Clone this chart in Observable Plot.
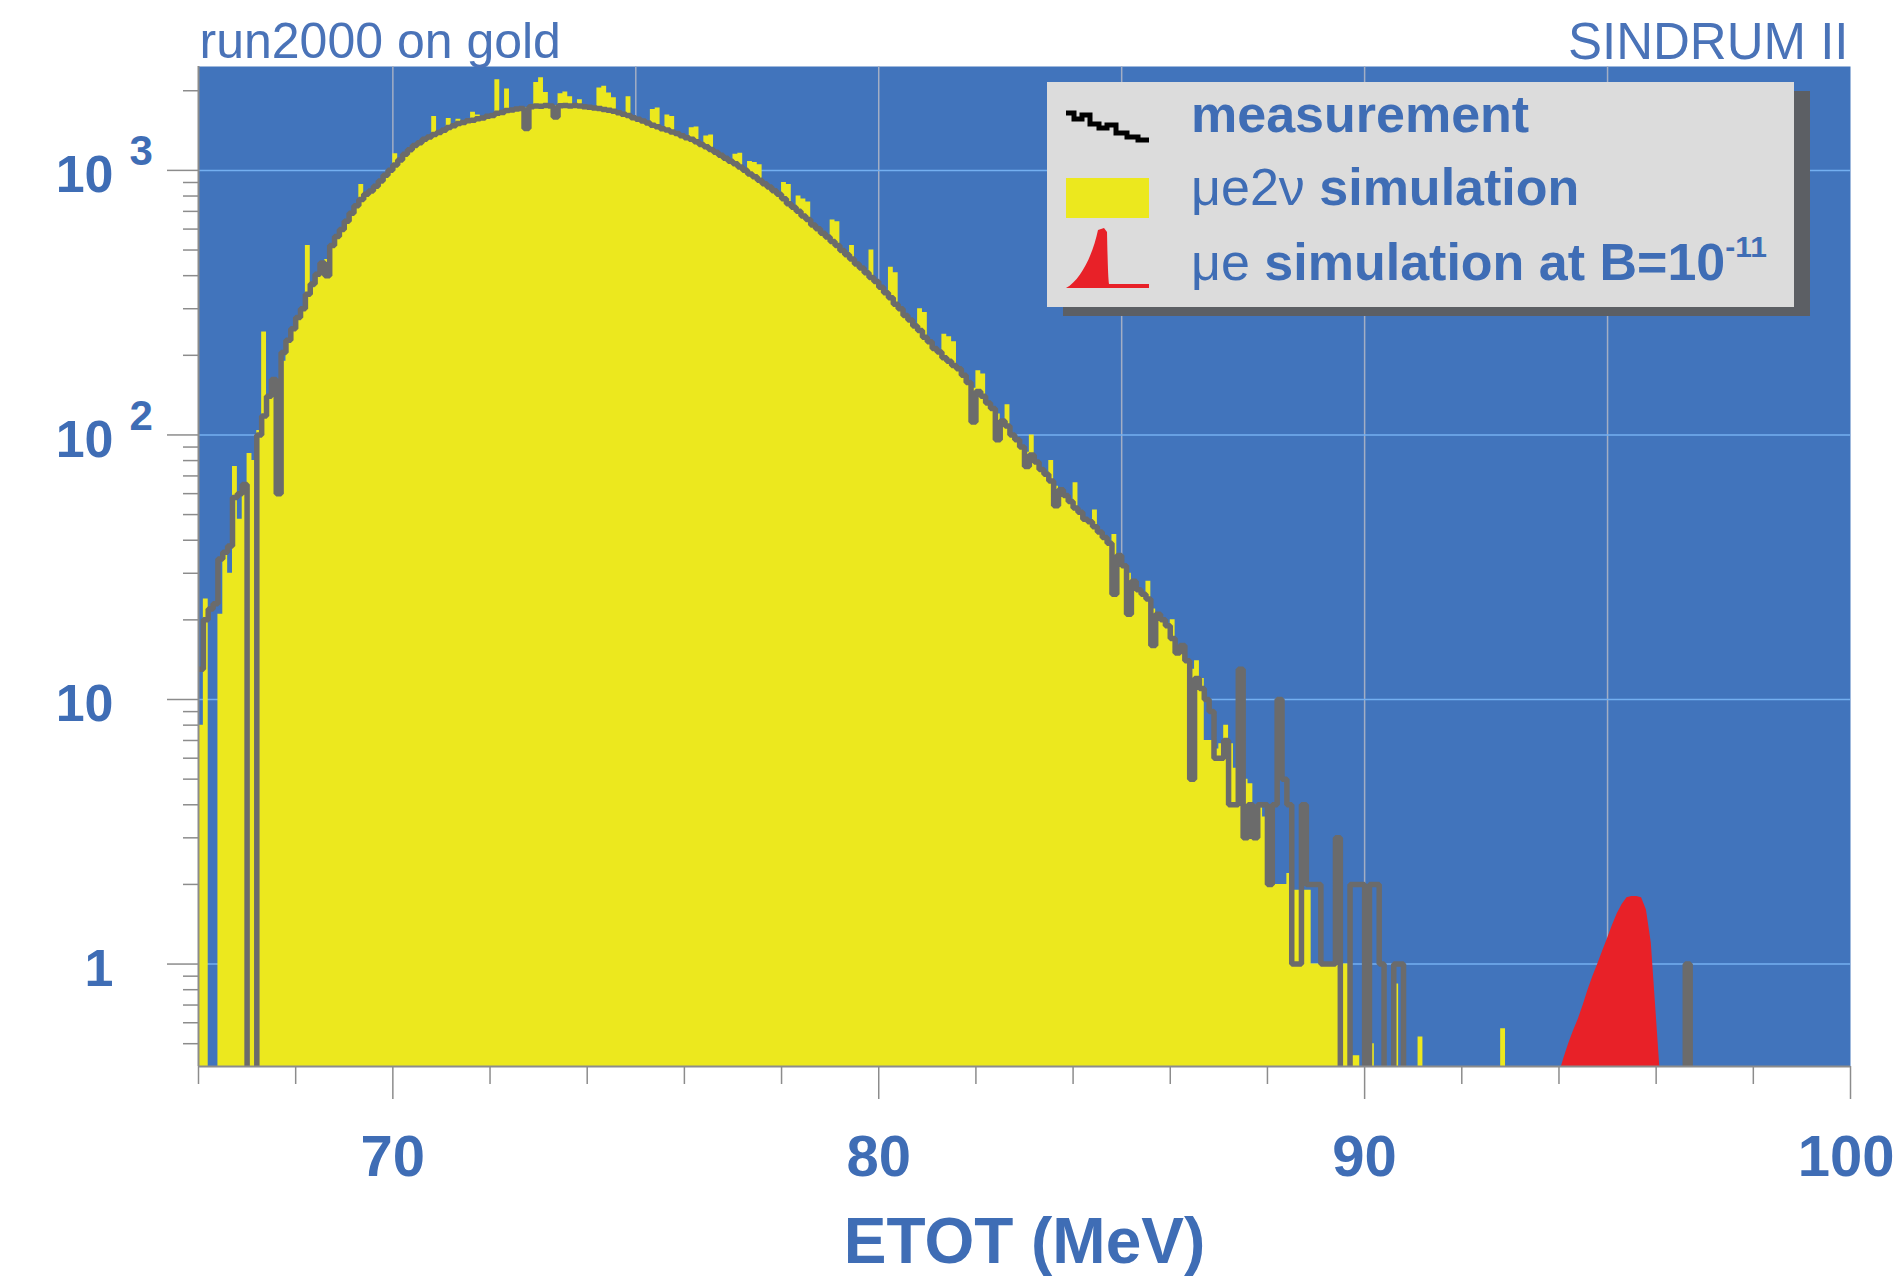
<!DOCTYPE html>
<html><head><meta charset="utf-8">
<script src="https://cdn.jsdelivr.net/npm/d3@7"></script>
<script src="https://cdn.jsdelivr.net/npm/@observablehq/plot@0.6"></script>
<style>
html,body{margin:0;padding:0;background:#fff;}
#wrap{position:relative;width:1896px;height:1279px;overflow:hidden;font-family:"Liberation Sans",Arial,Helvetica,sans-serif;}
#legend{position:absolute;left:1047px;top:82px;overflow:visible;}
</style></head>
<body><div id="wrap"></div>
<script>
// ---- data ----
const binStart = 66.0;      // MeV, first bin edge
const binWidth = 0.1;       // MeV
// measurement counts per 0.1 MeV bin, from 66.0 MeV
const meas = [
  13, 20, 22, 23, 34, 36, 38, 58, 60, 65,
  0, 0, 100, 118, 140, 162, 60, 205, 228, 252,
  278, 300, 340, 372, 405, 447, 400, 520, 562, 598,
  642, 688, 735, 776, 812, 836, 872, 912, 958, 1002,
  1048, 1095, 1152, 1196, 1242, 1272, 1312, 1338, 1368, 1392,
  1418, 1452, 1476, 1505, 1518, 1540, 1548, 1568, 1578, 1602,
  1612, 1645, 1655, 1684, 1690, 1708, 1712, 1440, 1740, 1752,
  1748, 1758, 1752, 1590, 1756, 1760, 1750, 1758, 1752, 1740,
  1732, 1722, 1712, 1700, 1688, 1672, 1652, 1630, 1612, 1582,
  1560, 1538, 1512, 1480, 1462, 1438, 1420, 1398, 1380, 1352,
  1330, 1310, 1282, 1252, 1228, 1200, 1172, 1140, 1112, 1082,
  1060, 1030, 1002, 970, 946, 918, 890, 866, 838, 812,
  782, 748, 726, 700, 672, 652, 622, 602, 578, 560,
  538, 520, 498, 480, 462, 443, 428, 410, 394, 380,
  362, 345, 330, 312, 300, 283, 272, 258, 248, 234,
  225, 212, 206, 196, 190, 183, 178, 168, 158, 112,
  146, 140, 132, 126, 96, 113, 108, 100, 96, 90,
  76, 84, 79, 74, 71, 67, 54, 62, 59, 56,
  53, 51, 48, 47, 45, 43, 41, 39, 25, 35,
  32, 21, 28, 26, 25, 24, 16, 21, 20, 19,
  17, 15, 16, 14, 5, 12, 11, 10, 9, 6,
  6, 7, 4, 4, 13, 3, 4, 3, 4, 4,
  2, 4, 10, 5, 4, 1, 1, 4, 2, 2,
  2, 1, 1, 1, 3, 0, 0, 2, 2, 2,
  0, 2, 2, 1, 0, 0, 1, 1, 0, 0,
  0, 0
];
// mu -> e 2 nu simulation per 0.1 MeV bin, from 66.0 MeV
const sim = [
  8, 24, 0, 0, 21, 36, 30, 76, 48, 62,
  85, 80, 104, 245, 140, 150, 100, 190, 225, 250,
  275, 298, 520, 360, 400, 445, 460, 515, 560, 600,
  640, 685, 735, 885, 810, 836, 870, 912, 955, 1000,
  1155, 1095, 1150, 1196, 1240, 1270, 1310, 1338, 1600, 1392,
  1418, 1570, 1476, 1560, 1518, 1540, 1660, 1620, 1578, 1600,
  1612, 2200, 1655, 2030, 1690, 1708, 1712, 1725, 1740, 2150,
  2240, 1970, 1760, 1760, 1950, 1980, 1900, 1760, 1850, 1745,
  1735, 1722, 2050, 2080, 1960, 1880, 1655, 1630, 1900, 1585,
  1560, 1538, 1512, 1700, 1720, 1438, 1620, 1600, 1380, 1352,
  1330, 1450, 1460, 1252, 1350, 1360, 1172, 1140, 1112, 1082,
  1150, 1160, 1002, 1080, 1070, 1050, 890, 866, 838, 812,
  900, 885, 726, 800, 780, 760, 622, 602, 578, 560,
  650, 640, 498, 480, 520, 443, 428, 410, 500, 380,
  362, 345, 430, 410, 300, 283, 272, 258, 300, 290,
  225, 212, 206, 240, 235, 225, 178, 168, 158, 150,
  175, 170, 132, 126, 120, 113, 130, 100, 96, 90,
  86, 100, 79, 74, 71, 80, 64, 62, 59, 56,
  66, 51, 48, 47, 52, 43, 41, 39, 42, 35,
  32, 30, 28, 26, 25, 28, 22, 21, 20, 19,
  20, 16, 15, 14, 13, 14, 12, 7, 7, 6.5,
  6.8, 8, 6.8, 5.5, 5.8, 5, 4.8, 4, 3.9, 3.6,
  3.5, 2, 2, 2, 2.2, 1.9, 1.9, 1.9, 1.9, 1,
  1, 1, 1, 1, 1, 1, 1, 0.45, 0.45, 0.3,
  0, 0.5, 0, 0, 0, 0, 0.84, 0, 0, 0,
  0, 0.53
];
// isolated entries further out in the tail
const tailMeasEnergy = [96.6];
const tailMeasCount  = [1];
const tailSimEnergy  = [92.8];
const tailSimValue   = [0.57];
// mu -> e signal simulation at B = 1e-11
const peakEnergy = [93.9, 94.0, 94.1, 94.2, 94.3, 94.4, 94.5, 94.6, 94.7, 94.8, 94.9, 95.0, 95.1, 95.2, 95.3, 95.4, 95.5, 95.6, 95.7, 95.8, 95.9, 96.0, 96.1, 96.2];
const peakValue  = [0.2, 0.38, 0.44, 0.5, 0.56, 0.62, 0.7, 0.8, 0.9, 1.0, 1.12, 1.25, 1.4, 1.55, 1.68, 1.78, 1.8, 1.8, 1.78, 1.6, 1.2, 0.65, 0.35, 0.2];
// axes
const xDomain = [66, 100];
const yDomain = [0.41, 2470];
const xMajorTicks = [70, 80, 90, 100];
const xMinorTicks = [66, 68, 72, 74, 76, 78, 82, 84, 86, 88, 92, 94, 96, 98];
const xGrid = [70, 75, 80, 85, 90, 95];
const yMajorTicks = [1, 10, 100, 1000];
const yMinorTicks = [0.5, 0.6, 0.7, 0.8, 0.9, 2, 3, 4, 5, 6, 7, 8, 9, 20, 30, 40, 50, 60, 70, 80, 90, 200, 300, 400, 500, 600, 700, 800, 900, 2000];
const yTickBase = ["1", "10", "10", "10"];
const yTickExp  = ["", "", "2", "3"];

// ---- build ----
const BLUE = "#4174bc", YELLOW = "#ece81e", GRAY = "#6b6b6b", RED = "#e82128";
const TEXTBLUE = "#3f6db5", HGRID = "#74aff0", VGRID = "#a3aec4", AXIS = "#8c8c8c";
const FLOOR = 0.05;
const nBins = Math.round((xDomain[1] - binStart) / binWidth);
const measBins = new Array(nBins).fill(0);
const simBins = new Array(nBins).fill(0);
meas.forEach((v, i) => measBins[i] = v);
sim.forEach((v, i) => simBins[i] = v);
tailMeasEnergy.forEach((e, k) => measBins[Math.round((e - binStart) / binWidth)] = tailMeasCount[k]);
tailSimEnergy.forEach((e, k) => simBins[Math.round((e - binStart) / binWidth)] = tailSimValue[k]);
const edgeOf = i => Math.round((binStart + i * binWidth) * 1000) / 1000;
const measPts = measBins.map((v, i) => ({x: edgeOf(i), y: v > 0 ? v : FLOOR}));
measPts.push({x: xDomain[1], y: measPts[measPts.length - 1].y});
const simPts = simBins.map((v, i) => ({x: edgeOf(i), y1: FLOOR, y2: v > 0 ? v : FLOOR}));
simPts.push({x: xDomain[1], y1: FLOOR, y2: simPts[simPts.length - 1].y2});
const peakPts = peakEnergy.map((e, i) => ({x: e, y1: FLOOR, y2: peakValue[i]}));
const yLab = yMajorTicks.map((v, i) => ({v, base: yTickBase[i], exp: yTickExp[i]}));

const FONT = '"Liberation Sans", Arial, Helvetica, sans-serif';
const chart = Plot.plot({
  width: 1896, height: 1279,
  marginLeft: 198, marginRight: 46, marginTop: 66, marginBottom: 213,
  x: {domain: xDomain},
  y: {type: "log", domain: yDomain},
  style: {fontFamily: FONT, background: "transparent", overflow: "visible"},
  marks: [
    Plot.frame({fill: BLUE, stroke: null}),
    Plot.gridX(xGrid, {stroke: VGRID, strokeOpacity: 1, strokeWidth: 1.5}),
    Plot.gridY(yMajorTicks, {stroke: HGRID, strokeOpacity: 1, strokeWidth: 1.5}),
    Plot.areaY(simPts, {x: "x", y1: "y1", y2: "y2", curve: "step-after", fill: YELLOW, clip: true}),
    Plot.areaY(peakPts, {x: "x", y1: "y1", y2: "y2", fill: RED, clip: true}),
    Plot.line(measPts, {x: "x", y: "y", curve: "step-after", stroke: GRAY, strokeWidth: 5.5, strokeLinejoin: "miter", strokeLinecap: "butt", clip: true}),
    Plot.ruleY([yDomain[0]], {stroke: AXIS, strokeWidth: 2}),
    Plot.ruleX([xDomain[0]], {stroke: AXIS, strokeWidth: 2}),
    Plot.axisX(xMajorTicks, {tickSize: 33, tickFormat: () => "", stroke: AXIS, strokeWidth: 1.5, label: null}),
    Plot.axisX(xMinorTicks, {tickSize: 18, tickFormat: () => "", stroke: AXIS, strokeWidth: 1.5, label: null}),
    Plot.axisY(yMajorTicks, {tickSize: 31, tickFormat: () => "", stroke: AXIS, strokeWidth: 1.5, label: null}),
    Plot.axisY(yMinorTicks, {tickSize: 15, tickFormat: () => "", stroke: AXIS, strokeWidth: 1.5, label: null}),
    Plot.text(xMajorTicks.filter(d => d < 100), {x: d => d, text: d => String(d), frameAnchor: "bottom", lineAnchor: "bottom", dy: 109, fontSize: 58, fontWeight: "bold", fill: TEXTBLUE}),
    Plot.text(xMajorTicks.filter(d => d >= 100), {x: d => d, text: d => String(d), frameAnchor: "bottom", textAnchor: "end", lineAnchor: "bottom", dx: 44, dy: 109, fontSize: 58, fontWeight: "bold", fill: TEXTBLUE}),
    Plot.text(["ETOT (MeV)"], {frameAnchor: "bottom", lineAnchor: "bottom", dy: 196, fontSize: 64, fontWeight: "bold", fill: TEXTBLUE}),
    Plot.text(yLab, {y: "v", text: "base", frameAnchor: "left", textAnchor: "end", lineAnchor: "middle", dx: -85, dy: 5, fontSize: 52, fontWeight: "bold", fill: TEXTBLUE}),
    Plot.text(yLab.filter(d => d.exp), {y: "v", text: "exp", frameAnchor: "left", textAnchor: "start", lineAnchor: "bottom", dx: -69, dy: -5, fontSize: 42, fontWeight: "bold", fill: TEXTBLUE}),
    Plot.text(["run2000 on gold"], {frameAnchor: "top-left", textAnchor: "start", lineAnchor: "bottom", dx: 1, dy: -9, fontSize: 50, fill: "#4a73b8"}),
    Plot.text(["SINDRUM II"], {frameAnchor: "top-right", textAnchor: "end", lineAnchor: "bottom", dx: -2, dy: -8, fontSize: 51, fill: "#4a73b8"})
  ]
});
const wrap = document.getElementById("wrap");
wrap.appendChild(chart);

// legend overlay
const legend = `
<svg id="legend" width="770" height="240" viewBox="0 0 770 240" xmlns="http://www.w3.org/2000/svg" font-family='${FONT}'>
  <rect x="16" y="9" width="747" height="225" fill="#5c5f64"/>
  <rect x="0" y="0" width="747" height="225" fill="#dcdcdc"/>
  <polyline points="19,31 27,31 27,37 35,37 35,33 43,33 43,42 52,42 52,46 60,46 60,43 69,43 69,51 80,51 80,55 91,55 91,58 102,58" fill="none" stroke="#000" stroke-width="5"/>
  <rect x="19" y="96" width="83" height="40" fill="${YELLOW}"/>
  <path d="M19,206 C34,198 46,172 51,148 L57,146 L60,150 C60.5,172 61,196 62,202 L102,202 L102,206 Z" fill="${RED}"/>
  <text x="144" y="50" font-size="52" font-weight="bold" fill="${TEXTBLUE}">measurement</text>
  <text x="144" y="123" font-size="52" fill="${TEXTBLUE}">μe2ν<tspan font-weight="bold"> simulation</tspan></text>
  <text x="144" y="198" font-size="52" fill="${TEXTBLUE}">μe<tspan font-weight="bold"> simulation at B=10</tspan><tspan font-size="30" font-weight="bold" dy="-23">-11</tspan></text>
</svg>`;
wrap.insertAdjacentHTML("beforeend", legend);
</script>
</body></html>
